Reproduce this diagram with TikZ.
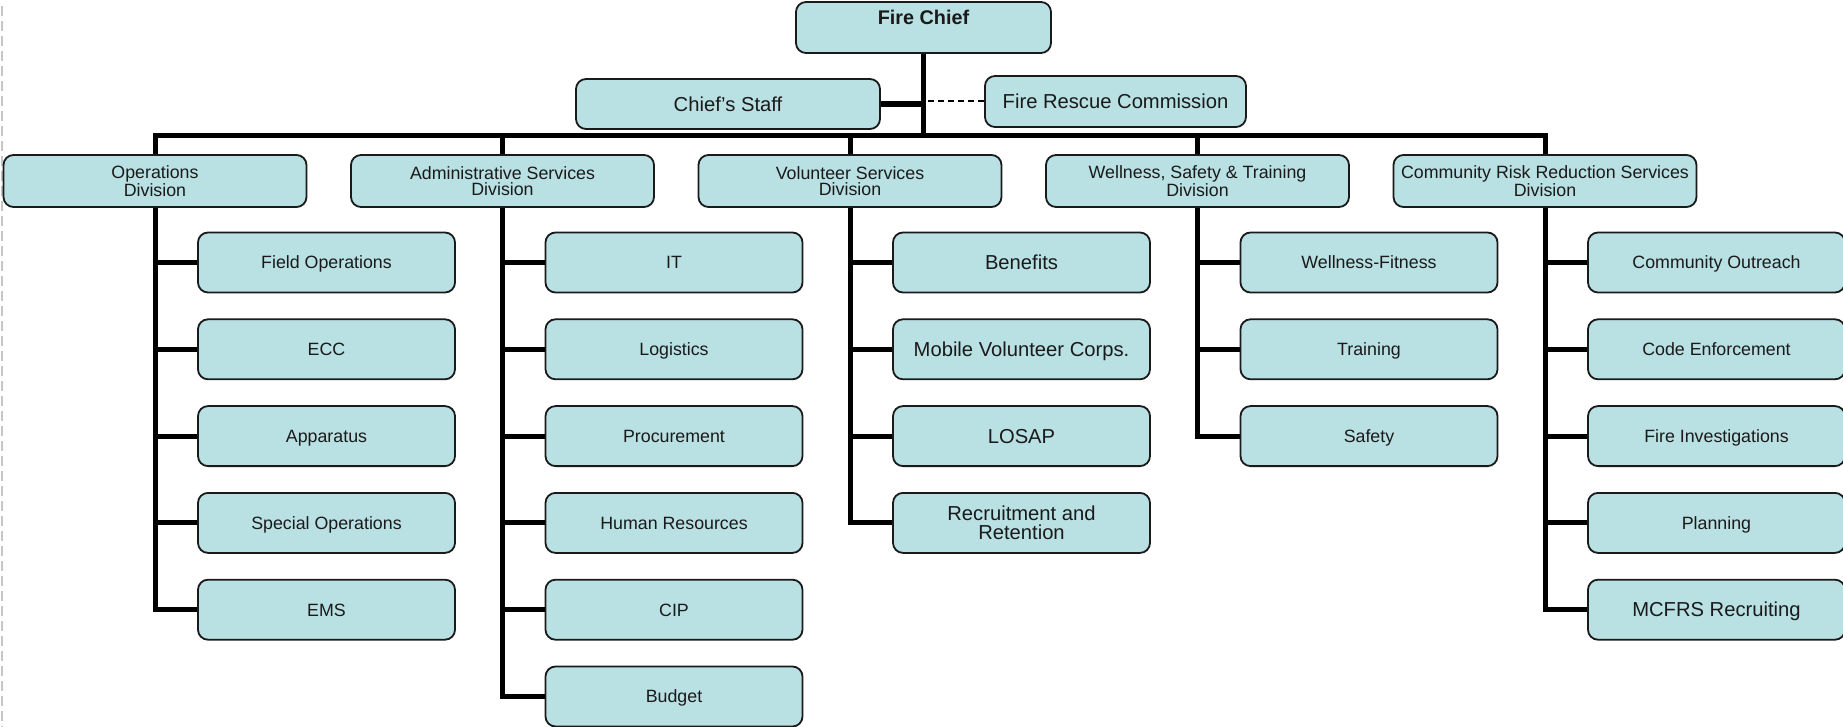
\documentclass[tikz,border=0pt]{standalone}
\usepackage{fontspec}
\setmainfont{Liberation Sans}
\definecolor{boxcol}{HTML}{B9E0E3}
\definecolor{edgecol}{HTML}{1A1A1A}

\begin{document}
\begin{tikzpicture}[
    x=0.5pt, y=-0.5pt,
    box/.style={draw=edgecol, fill=boxcol, line width=0.9pt, rounded corners=5pt,
                inner sep=0pt, align=center, text=edgecol},
    smalltxt/.style={font=\fontsize{8.9pt}{8.2pt}\selectfont},
    bigtxt/.style={font=\fontsize{10.1pt}{9.8pt}\selectfont},
    smallone/.style={smalltxt, text height=6.4pt, text depth=0pt},
    bigone/.style={bigtxt, text height=7.2pt, text depth=0pt},
    headbox/.style={box, font=\fontsize{9.9pt}{9.7pt}\selectfont\bfseries,
                    minimum width=127.5pt, text height=11.5pt, text depth=14pt},
    staffbox/.style={box, bigone, minimum height=25pt},
    divbox/.style={box, smalltxt, minimum width=151.5pt, minimum height=26pt},
    unitbox/.style={box, minimum width=128.5pt, minimum height=30pt},
    bar/.style={line width=2.5pt, black},
    advice/.style={line width=1pt, black, dash pattern=on 3pt off 2pt},
    margin/.style={gray!45, line width=0.6pt, dash pattern=on 5pt off 2.5pt},
  ]

  \def\dx{347.5}   % division spacing
  \def\dy{86.8}    % row spacing

  \useasboundingbox (0,0) rectangle (1843,727);
  \draw[margin] (2,6) -- (2,727);

  % =========================================================
  %  TOP — chief, staff, commission
  % =========================================================
  \node[headbox] (chief) at (923.5,27.5) {Fire Chief};
  \node[staffbox, minimum width=152pt] (staff) at (728,104) {Chief’s Staff};
  \node[staffbox, minimum width=130.5pt, minimum height=25.5pt] (comm)
    at (1115.5,101.5) {Fire Rescue Commission};
  \coordinate (bus) at (923.5,136);

  % =========================================================
  %  DIVISIONS
  % =========================================================
  \foreach \name/\txt [count=\i from 0] in {ops/Operations,
      admin/Administrative Services, vol/Volunteer Services,
      well/{Wellness, Safety \& Training},
      crr/Community Risk Reduction Services}{
    \node[divbox] (\name) at (155+\dx*\i, 181) {\txt\\Division};
  }

  % trunk and bus
  \draw[bar] (chief.south) -- (bus);
  \draw[bar, line width=3pt] (staff.east) -- (staff.east -| chief.south);
  \draw[advice] (comm.west) -- (comm.west -| chief.south);
  \draw[bar] (ops.north) |- (crr.north |- bus) -- (crr.north);
  \foreach \name in {admin, vol, well}{
    \draw[bar] (\name.north) -- (\name.north |- bus);
  }

  % =========================================================
  %  UNITS — one column below each division
  % =========================================================
  % operations
  \foreach \txt [count=\k] in {Field Operations, ECC, Apparatus,
      Special Operations, EMS}{
    \node[unitbox, smallone] (ops-\k) at (326.5, {262.5+\dy*(\k-1)}) {\txt};
    \draw[bar] (ops.south) |- (ops-\k.west);
  }
  % administrative services
  \foreach \txt [count=\k] in {IT, Logistics, Procurement, Human Resources,
      CIP, Budget}{
    \node[unitbox, smallone] (admin-\k) at (674, {262.5+\dy*(\k-1)}) {\txt};
    \draw[bar] (admin.south) |- (admin-\k.west);
  }
  % volunteer services
  \foreach \txt/\sty [count=\k] in {Benefits/bigone,
      Mobile Volunteer Corps./bigone, LOSAP/bigone,
      {Recruitment and\\Retention}/bigtxt}{
    \node[unitbox, \sty] (vol-\k) at (1021.5, {262.5+\dy*(\k-1)}) {\txt};
    \draw[bar] (vol.south) |- (vol-\k.west);
  }
  % wellness, safety & training
  \foreach \txt [count=\k] in {Wellness-Fitness, Training, Safety}{
    \node[unitbox, smallone] (well-\k) at (1369, {262.5+\dy*(\k-1)}) {\txt};
    \draw[bar] (well.south) |- (well-\k.west);
  }
  % community risk reduction
  \foreach \txt/\sty [count=\k] in {Community Outreach/smallone,
      Code Enforcement/smallone, Fire Investigations/smallone,
      Planning/smallone, MCFRS Recruiting/bigone}{
    \node[unitbox, \sty] (crr-\k) at (1716.5, {262.5+\dy*(\k-1)}) {\txt};
    \draw[bar] (crr.south) |- (crr-\k.west);
  }

\end{tikzpicture}
\end{document}
